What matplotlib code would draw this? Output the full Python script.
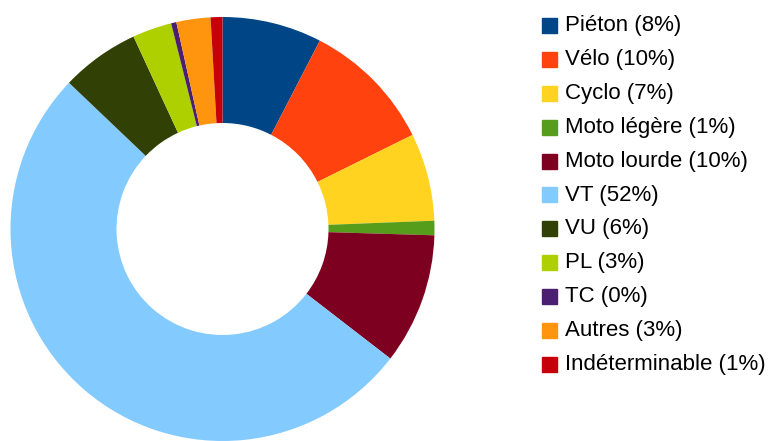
import matplotlib
matplotlib.use('Agg')
import matplotlib.pyplot as plt
from matplotlib.patches import Rectangle

# Shares (percent, clockwise from the top)
labels = ['Piéton', 'Vélo', 'Cyclo', 'Moto légère', 'Moto lourde', 'VT',
          'VU', 'PL', 'TC', 'Autres', 'Indéterminable']
values = [7.6, 10.1, 6.7, 1.1, 10.0, 51.7, 6.0, 3.0, 0.4, 2.6, 0.9]
legend_pct = [8, 10, 7, 1, 10, 52, 6, 3, 0, 3, 1]
colors = ['#004586', '#ff420e', '#ffd320', '#579d1c', '#7e0021', '#83caff',
          '#314004', '#aecf00', '#4b1f6f', '#ff950e', '#c5000b']

W, H = 778, 441
fig = plt.figure(figsize=(W / 100, H / 100), dpi=100)

# donut: centre (222.5, 229) px, radius 212 px
cx, cy, r = 222.5, 229, 212
ax = fig.add_axes([(cx - r) / W, (H - cy - r) / H, 2 * r / W, 2 * r / H])
ax.pie(values, colors=colors, startangle=90, counterclock=False, radius=1,
       wedgeprops=dict(width=0.5, linewidth=0), normalize=True)
ax.set_xlim(-1, 1)
ax.set_ylim(-1, 1)
ax.set_aspect('equal')
ax.axis('off')

# legend drawn by hand
y0, step = 25.5, 33.9
for i, (lab, pct, col) in enumerate(zip(labels, legend_pct, colors)):
    y = y0 + i * step
    fig.patches.append(Rectangle((542 / W, (H - y - 7.5) / H), 15 / W, 15 / H,
                                 transform=fig.transFigure, color=col))
    fig.text(565 / W, (H - y) / H, f'{lab} ({pct}%)', va='center', ha='left',
             fontsize=16, family='Liberation Sans', color='#000000')

fig.savefig('out.png', dpi=100)
